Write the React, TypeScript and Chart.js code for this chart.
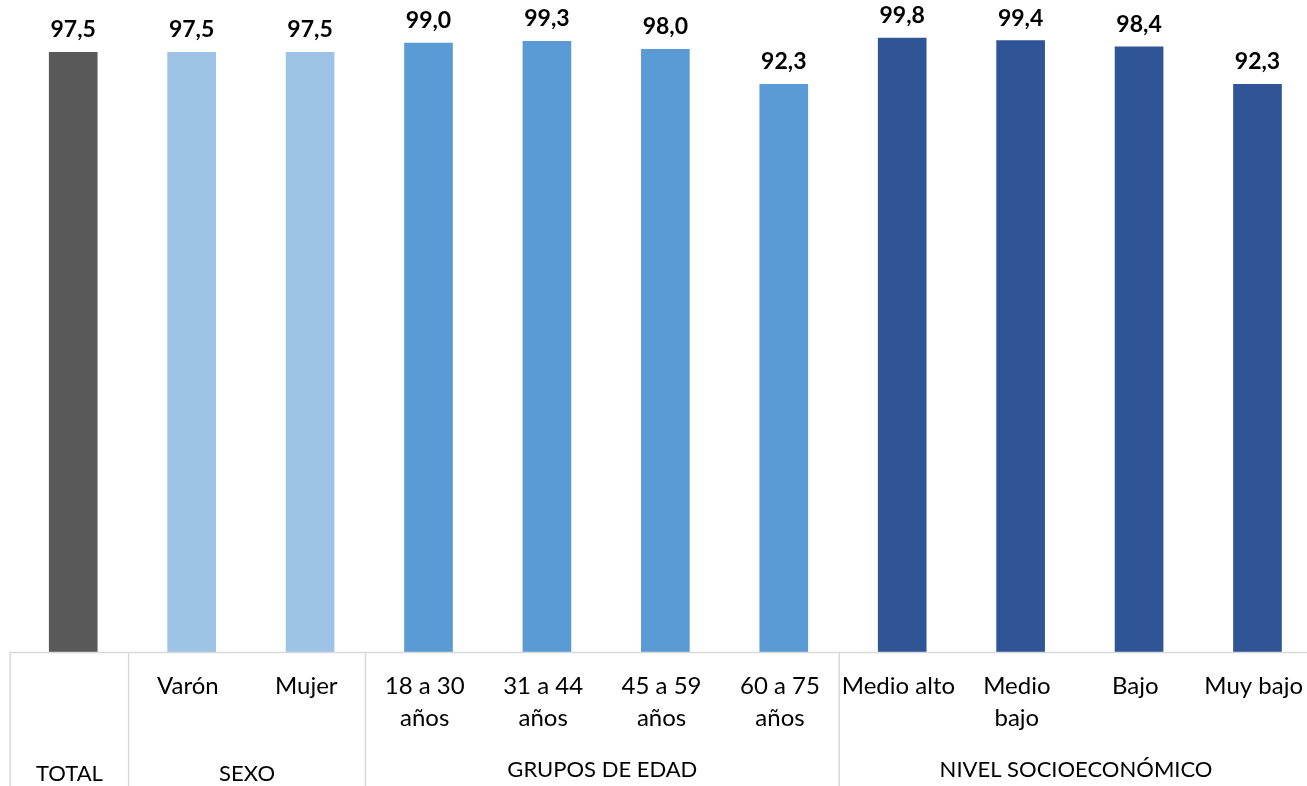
import React, { useEffect, useRef } from "react";
import { Chart, registerables } from "chart.js";

Chart.register(...registerables);

const categories = [
  "TOTAL",
  "Varón",
  "Mujer",
  "18 a 30 años",
  "31 a 44 años",
  "45 a 59 años",
  "60 a 75 años",
  "Medio alto",
  "Medio bajo",
  "Bajo",
  "Muy bajo",
];
const tickLines: string[][] = [
  [],
  ["Varón"],
  ["Mujer"],
  ["18 a 30", "años"],
  ["31 a 44", "años"],
  ["45 a 59", "años"],
  ["60 a 75", "años"],
  ["Medio alto"],
  ["Medio", "bajo"],
  ["Bajo"],
  ["Muy bajo"],
];
const values = [97.5, 97.5, 97.5, 99.0, 99.3, 98.0, 92.3, 99.8, 99.4, 98.4, 92.3];

const groupLabels = ["TOTAL", "SEXO", "GRUPOS DE EDAD", "NIVEL SOCIOECONÓMICO"];
const groupStarts = [0, 1, 3, 7];
const groupEnds = [0, 2, 6, 10];
const groupColors = ["#595959", "#9DC3E6", "#5B9BD5", "#2F5597"];
const groupBaselineOffsets = [129, 129, 125, 125];

const CANVAS_W = 1320;
const CANVAS_H = 786;
const FONT = "Lato, 'Open Sans', sans-serif";
const SHIFT = -3.8;

function barColors(): string[] {
  const out: string[] = [];
  categories.forEach((_, i) => {
    const g = groupStarts.findIndex((s, k) => i >= s && i <= groupEnds[k]);
    out.push(groupColors[g]);
  });
  return out;
}

const decorPlugin = {
  id: "decor",
  afterDatasetsDraw(chart: any) {
    const { ctx, chartArea } = chart;
    const xs = chart.scales.x;
    const meta = chart.getDatasetMeta(0);
    const cw = xs.getPixelForValue(1) - xs.getPixelForValue(0);
    const bottom = chartArea.bottom;

    ctx.save();
    // value labels
    ctx.fillStyle = "#000";
    ctx.textAlign = "center";
    ctx.textBaseline = "alphabetic";
    ctx.font = `bold 23px ${FONT}`;
    meta.data.forEach((el: any, i: number) => {
      const txt = values[i].toFixed(1).replace(".", ",");
      ctx.fillText(txt, el.x, el.y - 15);
    });

    // axis line
    ctx.strokeStyle = "#D9D9D9";
    ctx.lineWidth = 1.5;
    ctx.beginPath();
    const leftEdge = xs.getPixelForValue(0) - cw / 2 + SHIFT;
    ctx.moveTo(leftEdge - 1, bottom + 0.5);
    ctx.lineTo(chart.width, bottom + 0.5);
    ctx.stroke();

    // group separators
    groupStarts.forEach((s) => {
      const x = xs.getPixelForValue(s) - cw / 2 + SHIFT;
      ctx.beginPath();
      ctx.moveTo(x, bottom);
      ctx.lineTo(x, chart.height);
      ctx.stroke();
    });

    // category labels
    ctx.font = `24px ${FONT}`;
    ctx.fillStyle = "#000";
    tickLines.forEach((lines, i) => {
      const x = xs.getPixelForValue(i) + SHIFT;
      lines.forEach((ln, k) => {
        ctx.fillText(ln, x, bottom + 42 + k * 32);
      });
    });

    // group labels
    ctx.font = `22px ${FONT}`;
    groupLabels.forEach((g, k) => {
      const x0 = xs.getPixelForValue(groupStarts[k]) - cw / 2 + SHIFT;
      const x1 = xs.getPixelForValue(groupEnds[k]) + cw / 2 + SHIFT;
      ctx.fillText(g, (x0 + x1) / 2, bottom + groupBaselineOffsets[k]);
    });
    ctx.restore();
  },
};

export default function App() {
  const ref = useRef<HTMLCanvasElement | null>(null);

  useEffect(() => {
    let chart: Chart | null = null;
    let cancelled = false;
    const build = () => {
      if (cancelled || !ref.current) return;
      chart = new Chart(ref.current, {
        type: "bar",
        data: {
          labels: categories,
          datasets: [
            {
              data: values,
              backgroundColor: barColors(),
              borderWidth: 0,
              barThickness: 48,
            },
          ],
        },
        options: {
          responsive: false,
          animation: false,
          devicePixelRatio: 1,
          layout: { padding: { left: 14, right: 3.3, top: 0, bottom: 134 } },
          plugins: {
            legend: { display: false },
            tooltip: { enabled: false },
            title: { display: false },
          },
          scales: {
            x: { display: false, offset: true, grid: { display: false } },
            y: { display: false, min: 0, max: 106, grid: { display: false } },
          },
        },
        plugins: [decorPlugin],
      });
    };
    const fontsAny = (document as any).fonts;
    if (fontsAny && fontsAny.load) {
      Promise.all([
        fontsAny.load(`24px Lato`),
        fontsAny.load(`bold 23px Lato`),
      ])
        .catch(() => null)
        .then(build);
    } else {
      build();
    }
    return () => {
      cancelled = true;
      if (chart) chart.destroy();
    };
  }, []);

  return (
    <div
      style={{
        position: "fixed",
        left: 0,
        top: 0,
        width: 1307,
        height: 786,
        overflow: "hidden",
        background: "#fff",
      }}
    >
      <canvas
        ref={ref}
        width={CANVAS_W}
        height={CANVAS_H}
        style={{ display: "block", width: CANVAS_W, height: CANVAS_H }}
      />
    </div>
  );
}
